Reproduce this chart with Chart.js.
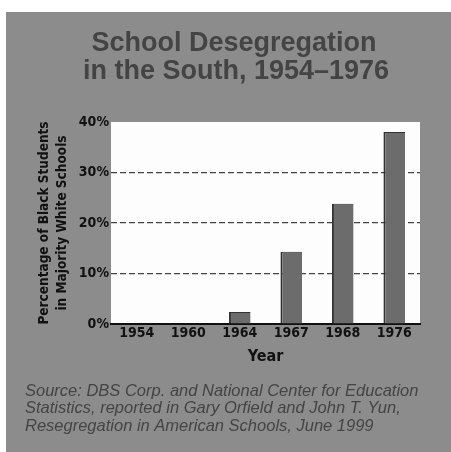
<!DOCTYPE html>
<html>
<head>
<meta charset="utf-8">
<script src="https://cdn.jsdelivr.net/npm/chart.js@4/dist/chart.umd.min.js"></script>
<style>
  html, body { margin: 0; padding: 0; background: #fff; }
  canvas { display: block; }
</style>
</head>
<body>
<canvas id="chart" width="451" height="452"></canvas>
<script>
const years = ["1954", "1960", "1964", "1967", "1968", "1976"];
const percentBlackInWhiteSchools = [0, 0.1, 2.4, 14.3, 23.8, 38.0];
const yTicks = [0, 10, 20, 30, 40];

const titleLines = ["School Desegregation", "in the South, 1954\u20131976"];
const yTitleLines = ["Percentage of Black Students", "in Majority White Schools"];
const sourceLines = [
  "Source: DBS Corp. and National Center for Education",
  "Statistics, reported in Gary Orfield and John T. Yun,",
  "Resegregation in American Schools, June 1999"
];

const narrow = "'DejaVu Sans Condensed', 'Liberation Sans Narrow', sans-serif";
const sans = "'Liberation Sans', Arial, Helvetica, sans-serif";

// gray page + white plot area
const backdrop = {
  id: "backdrop",
  beforeDraw(chart) {
    const { ctx, chartArea } = chart;
    ctx.save();
    ctx.fillStyle = "#ffffff";
    ctx.fillRect(0, 0, chart.width, chart.height);
    ctx.fillStyle = "#8c8c8c";
    ctx.fillRect(6, 12, chart.width - 6, chart.height - 12);
    ctx.fillStyle = "#fdfdfd";
    ctx.fillRect(chartArea.left, chartArea.top, chartArea.right - chartArea.left, chartArea.bottom - chartArea.top);
    ctx.restore();
  }
};

// title on top and source note at the bottom
const notes = {
  id: "notes",
  afterDraw(chart) {
    const { ctx } = chart;
    ctx.save();
    ctx.fillStyle = "#444444";
    ctx.textAlign = "center";
    ctx.textBaseline = "alphabetic";
    ctx.font = "bold 27px " + sans;
    ctx.fillText(titleLines[0], 234, 51);
    ctx.fillText(titleLines[1], 236, 79);

    ctx.textAlign = "left";
    ctx.font = "italic 16.5px " + sans;
    ctx.fillStyle = "#444444";
    ctx.fillText(sourceLines[0], 25, 396, 402);
    ctx.fillText(sourceLines[1], 25, 413, 377);
    ctx.fillText(sourceLines[2], 25, 431, 352);
    ctx.restore();
  }
};

new Chart(document.getElementById("chart"), {
  type: "bar",
  data: {
    labels: years,
    datasets: [
      {
        data: percentBlackInWhiteSchools,
        backgroundColor: "#6c6c6c",
        borderColor: "#333333",
        borderWidth: { left: 2, top: 1, right: 0, bottom: 0 },
        borderSkipped: false,
        barPercentage: 0.42,
        categoryPercentage: 1.0
      }
    ]
  },
  options: {
    responsive: false,
    animation: false,
    layout: { padding: { left: 0, right: 31, top: 122, bottom: 78 } },
    plugins: {
      legend: { display: false },
      title: { display: false },
      tooltip: { enabled: false }
    },
    scales: {
      x: {
        afterFit: (scale) => { scale.height = 50; },
        grid: { display: false, drawTicks: false },
        border: { display: true, color: "#111111", width: 2 },
        ticks: {
          padding: 1,
          color: "#111111",
          font: { family: narrow, size: 14, weight: "bold" }
        },
        title: {
          display: true,
          text: "Year",
          color: "#111111",
          padding: { top: 0, bottom: 8 },
          font: { family: narrow, size: 16, weight: "bold" }
        }
      },
      y: {
        min: 0,
        max: 40,
        afterFit: (scale) => { scale.width = 111; },
        afterBuildTicks: (scale) => { scale.ticks = yTicks.map(v => ({ value: v })); },
        grid: {
          drawTicks: false,
          lineWidth: 1.2,
          color: (c) => (c.tick && c.tick.value > 0 && c.tick.value < 40) ? "#444444" : "rgba(0,0,0,0)"
        },
        border: { display: false, dash: [6, 3] },
        ticks: {
          padding: 2,
          color: "#111111",
          callback: (v) => v + "%",
          font: { family: narrow, size: 14, weight: "bold" }
        },
        title: {
          display: true,
          text: yTitleLines,
          color: "#111111",
          padding: { top: 36, bottom: 0 },
          font: { family: narrow, size: 13.5, weight: "bold", lineHeight: 1.3 }
        }
      }
    }
  },
  plugins: [backdrop, notes]
});
</script>
</body>
</html>
